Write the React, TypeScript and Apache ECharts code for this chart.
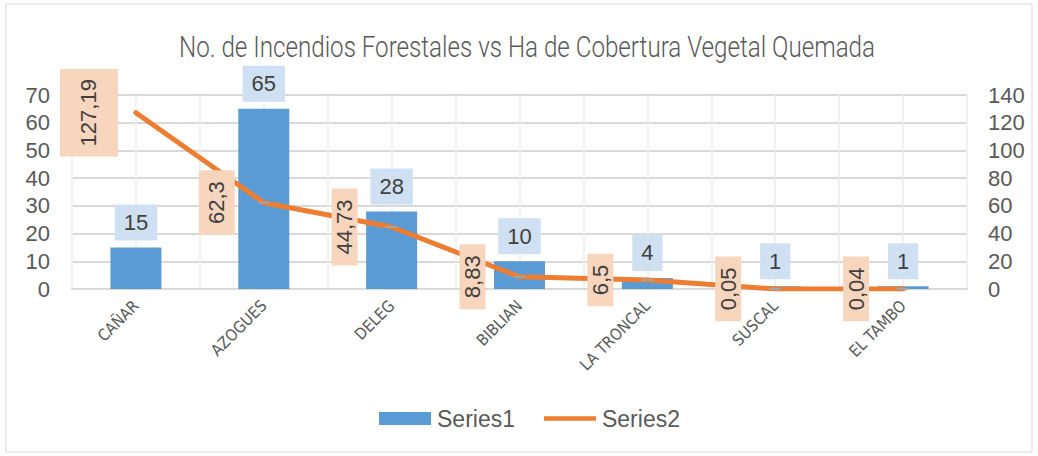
import React, { useEffect, useRef } from "react";
import * as echarts from "echarts";

const categories = ["CAÑAR", "AZOGUES", "DELEG", "BIBLIAN", "LA TRONCAL", "SUSCAL", "EL TAMBO"];
const series1Values = [15, 65, 28, 10, 4, 1, 1];
const series2Values = [127.19, 62.3, 44.73, 8.83, 6.5, 0.05, 0.04];
const titleText = "No. de Incendios Forestales vs Ha de Cobertura Vegetal Quemada";
const seriesNames = ["Series1", "Series2"];

const NARROW = "'DejaVu Sans Condensed', 'Liberation Sans Narrow', sans-serif";
const SANS = "'Liberation Sans', Arial, sans-serif";

export default function App() {
  const ref = useRef<HTMLDivElement>(null);
  useEffect(() => {
    if (!ref.current) return;
    const chart = echarts.init(ref.current, undefined, { renderer: "svg" });
    const s2Data = series2Values.map((v, i) => {
      const item: any = { value: v };
      if (i === 0) {
        item.label = { padding: [18, 10] };
        item.symbolSize = 0;
      }
      if (i === 1) item.label = { padding: [7, 11] };
      return item;
    });
    chart.setOption({
      animation: false,
      backgroundColor: "#ffffff",
      graphic: [
        {
          type: "rect",
          shape: { x: 6, y: 4, width: 1026, height: 448 },
          style: { fill: "none", stroke: "#d9d9d9", lineWidth: 1 },
          silent: true,
        },
        {
          type: "text",
          x: 527,
          y: 47,
          scaleX: 0.834,
          silent: true,
          style: {
            text: titleText,
            fontFamily: "Roboto, 'DejaVu Sans', sans-serif",
            fontWeight: 300,
            fontSize: 29,
            fill: "#595959",
            textAlign: "center",
            textVerticalAlign: "middle",
          },
        },
      ],
      legend: {
        bottom: 21,
        left: 374,
        itemWidth: 52,
        itemHeight: 13,
        itemGap: 29,
        textStyle: { fontFamily: SANS, fontSize: 23, color: "#595959", padding: [0, 0, 0, 1] },
        data: [
          { name: seriesNames[0], icon: "rect", itemStyle: { color: "#5b9bd5" } },
          {
            name: seriesNames[1],
            icon: "path://M0,0 M0,4 H55 V9 H0 Z M0,13",
            itemStyle: { color: "#ed7d31" },
          },
        ],
      },
      grid: { left: 72, right: 71, top: 95, bottom: 167 },
      xAxis: [
        {
          type: "category",
          data: categories,
          axisLine: { lineStyle: { color: "#d9d9d9", width: 2 } },
          axisTick: { show: false },
          splitLine: { show: false },
          axisLabel: {
            rotate: 45,
            margin: 14,
            fontFamily: NARROW,
            fontSize: 16,
            color: "#595959",
            interval: 0,
          },
        },
        {
          type: "value",
          min: 0,
          max: 14,
          interval: 1,
          position: "bottom",
          axisLine: { show: false },
          axisTick: { show: false },
          axisLabel: { show: false },
          splitLine: { show: true, lineStyle: { color: "#ececec", width: 1.5 } },
        },
      ],
      yAxis: [
        {
          type: "value",
          min: 0,
          max: 70,
          interval: 10,
          axisLine: { show: false },
          axisTick: { show: false },
          axisLabel: { fontFamily: SANS, fontSize: 22, color: "#595959", margin: 22 },
          splitLine: { lineStyle: { color: "#d9d9d9", width: 2 } },
        },
        {
          type: "value",
          min: 0,
          max: 140,
          interval: 20,
          axisLine: { show: false },
          axisTick: { show: false },
          axisLabel: { fontFamily: SANS, fontSize: 22, color: "#595959", margin: 21 },
          splitLine: { show: false },
        },
      ],
      series: [
        {
          name: seriesNames[0],
          type: "bar",
          xAxisIndex: 0,
          yAxisIndex: 0,
          data: series1Values,
          barWidth: 51,
          itemStyle: { color: "#5b9bd5" },
          label: {
            show: true,
            position: "top",
            distance: 7,
            fontFamily: SANS,
            fontSize: 22,
            lineHeight: 22,
            color: "#404040",
            backgroundColor: "#cfe0f2",
            padding: [7, 9],
          },
        },
        {
          name: seriesNames[1],
          type: "line",
          xAxisIndex: 0,
          yAxisIndex: 1,
          data: s2Data,
          z: 3,
          lineStyle: { color: "#ed7d31", width: 5, cap: "round", join: "round" },
          symbol: "rect",
          symbolSize: [12, 2],
          itemStyle: { color: "#a5a5a5" },
          label: {
            show: true,
            position: "inside",
            rotate: 90,
            offset: [0, -47],
            fontFamily: SANS,
            fontSize: 22,
            lineHeight: 22,
            color: "#404040",
            backgroundColor: "#f8d5bd",
            padding: [2, 11],
            formatter: (p: any) => String(p.value).replace(".", ","),
          },
        },
      ],
    });
    return () => chart.dispose();
  }, []);
  return (
    <div
      ref={ref}
      style={{ position: "absolute", left: 0, top: 0, width: 1038, height: 456 }}
    />
  );
}
